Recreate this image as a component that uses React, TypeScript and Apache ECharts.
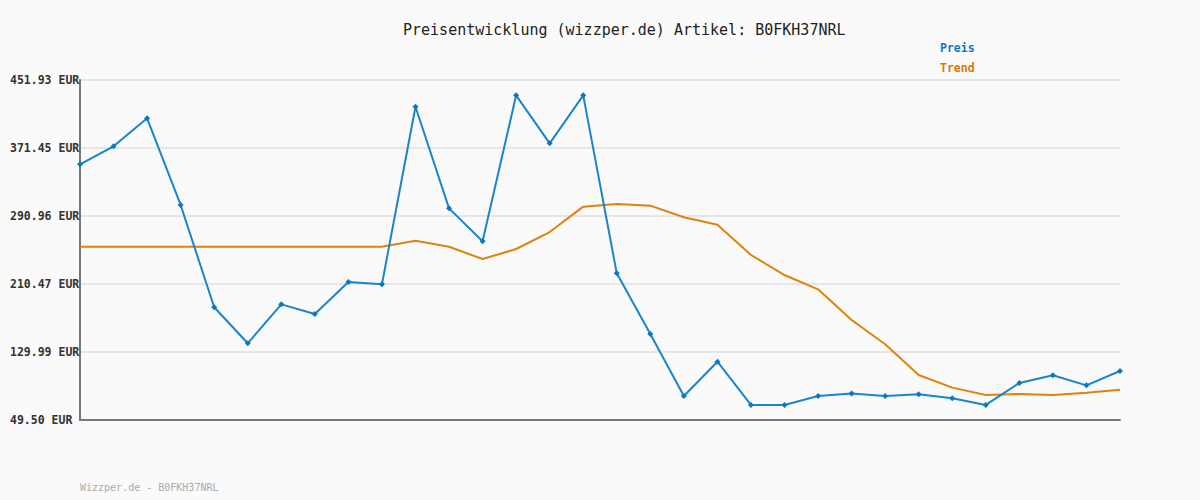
import React, { useEffect, useRef } from "react";
import * as echarts from "echarts";

const categories: string[] = Array.from({ length: 32 }, (_, i) => String(i + 1));

const preis: number[] = [
  352.1, 373.4, 406.6, 304.0, 182.9, 140.3, 186.4, 175.0, 212.8, 210.1,
  420.3, 300.0, 261.0, 433.8, 377.0, 433.8, 223.1, 151.3, 77.9, 118.5,
  67.3, 67.3, 77.9, 81.0, 77.9, 79.9, 75.2, 67.3, 93.3, 102.4, 90.5, 107.5,
];

const trend: number[] = [
  254.6, 254.6, 254.6, 254.6, 254.6, 254.6, 254.6, 254.6, 254.6, 254.6,
  261.7, 254.6, 240.0, 251.9, 272.0, 302.0, 305.2, 303.2, 289.4, 280.7,
  244.8, 221.1, 204.2, 167.9, 139.1, 102.8, 87.8, 79.2, 80.3, 79.2, 81.8, 85.4,
];

const yTickLabels: string[] = [
  "49.50 EUR", "129.99 EUR", "210.47 EUR", "290.96 EUR", "371.45 EUR", "451.93 EUR",
];

const Y_MIN = 49.5;
const Y_INTERVAL = 80.4865;
const Y_MAX = Y_MIN + Y_INTERVAL * 5;

const BLUE = "#1a84cc";
const ORANGE = "#e0820f";
const MONO = "'DejaVu Sans Mono', 'Liberation Mono', monospace";

export default function App() {
  const ref = useRef<HTMLDivElement>(null);
  useEffect(() => {
    if (!ref.current) return;
    const chart = echarts.init(ref.current, null, { renderer: "svg" });
    chart.setOption({
      animation: false,
      backgroundColor: "#fafafa",
      title: {
        text: "Preisentwicklung (wizzper.de) Artikel: B0FKH37NRL",
        left: 398,
        top: 17,
        textStyle: { fontFamily: MONO, fontSize: 15, fontWeight: "normal", color: "#222" },
      },
      legend: {
        orient: "vertical",
        left: 930,
        top: 37,
        itemGap: 8,
        itemWidth: 0,
        itemHeight: 0,
        icon: "rect",
        data: [
          { name: "Preis", textStyle: { color: "#0a78c0" } },
          { name: "Trend", textStyle: { color: "#d97706" } },
        ],
        textStyle: { fontFamily: MONO, fontSize: 11.5, fontWeight: "bold" },
      },
      graphic: [
        {
          type: "text",
          left: 80,
          top: 482,
          style: {
            text: "Wizzper.de - B0FKH37NRL",
            fill: "#aaaaaa",
            font: `10px ${MONO}`,
          },
        },
      ],
      grid: { left: 80, right: 80, top: 80, bottom: 80, containLabel: false },
      xAxis: {
        type: "category",
        data: categories,
        boundaryGap: false,
        axisLine: { show: true, lineStyle: { color: "#777", width: 2 } },
        axisTick: { show: false },
        axisLabel: { show: false },
        splitLine: { show: false },
      },
      yAxis: {
        type: "value",
        min: Y_MIN,
        max: Y_MAX,
        interval: Y_INTERVAL,
        axisLine: { show: true, lineStyle: { color: "#777", width: 2 } },
        axisTick: { show: false },
        splitLine: { show: true, lineStyle: { color: "#e6e6e6", width: 2 } },
        axisLabel: {
          align: "left",
          margin: 70,
          fontFamily: MONO,
          fontSize: 11.5,
          fontWeight: "bold",
          color: "#333",
          formatter: (v: number) => {
            const idx = Math.round((v - Y_MIN) / Y_INTERVAL);
            return yTickLabels[idx] ?? "";
          },
        },
      },
      series: [
        {
          name: "Preis",
          type: "line",
          data: preis,
          symbol: "diamond",
          symbolSize: 6,
          showSymbol: true,
          lineStyle: { color: BLUE, width: 2 },
          itemStyle: { color: "#0a78c0" },
          z: 3,
        },
        {
          name: "Trend",
          type: "line",
          data: trend,
          symbol: "none",
          lineStyle: { color: ORANGE, width: 2 },
          itemStyle: { color: ORANGE },
          z: 2,
        },
      ],
    });
    return () => chart.dispose();
  }, []);
  return <div ref={ref} style={{ width: 1200, height: 500, position: "absolute", left: 0, top: 0 }} />;
}
